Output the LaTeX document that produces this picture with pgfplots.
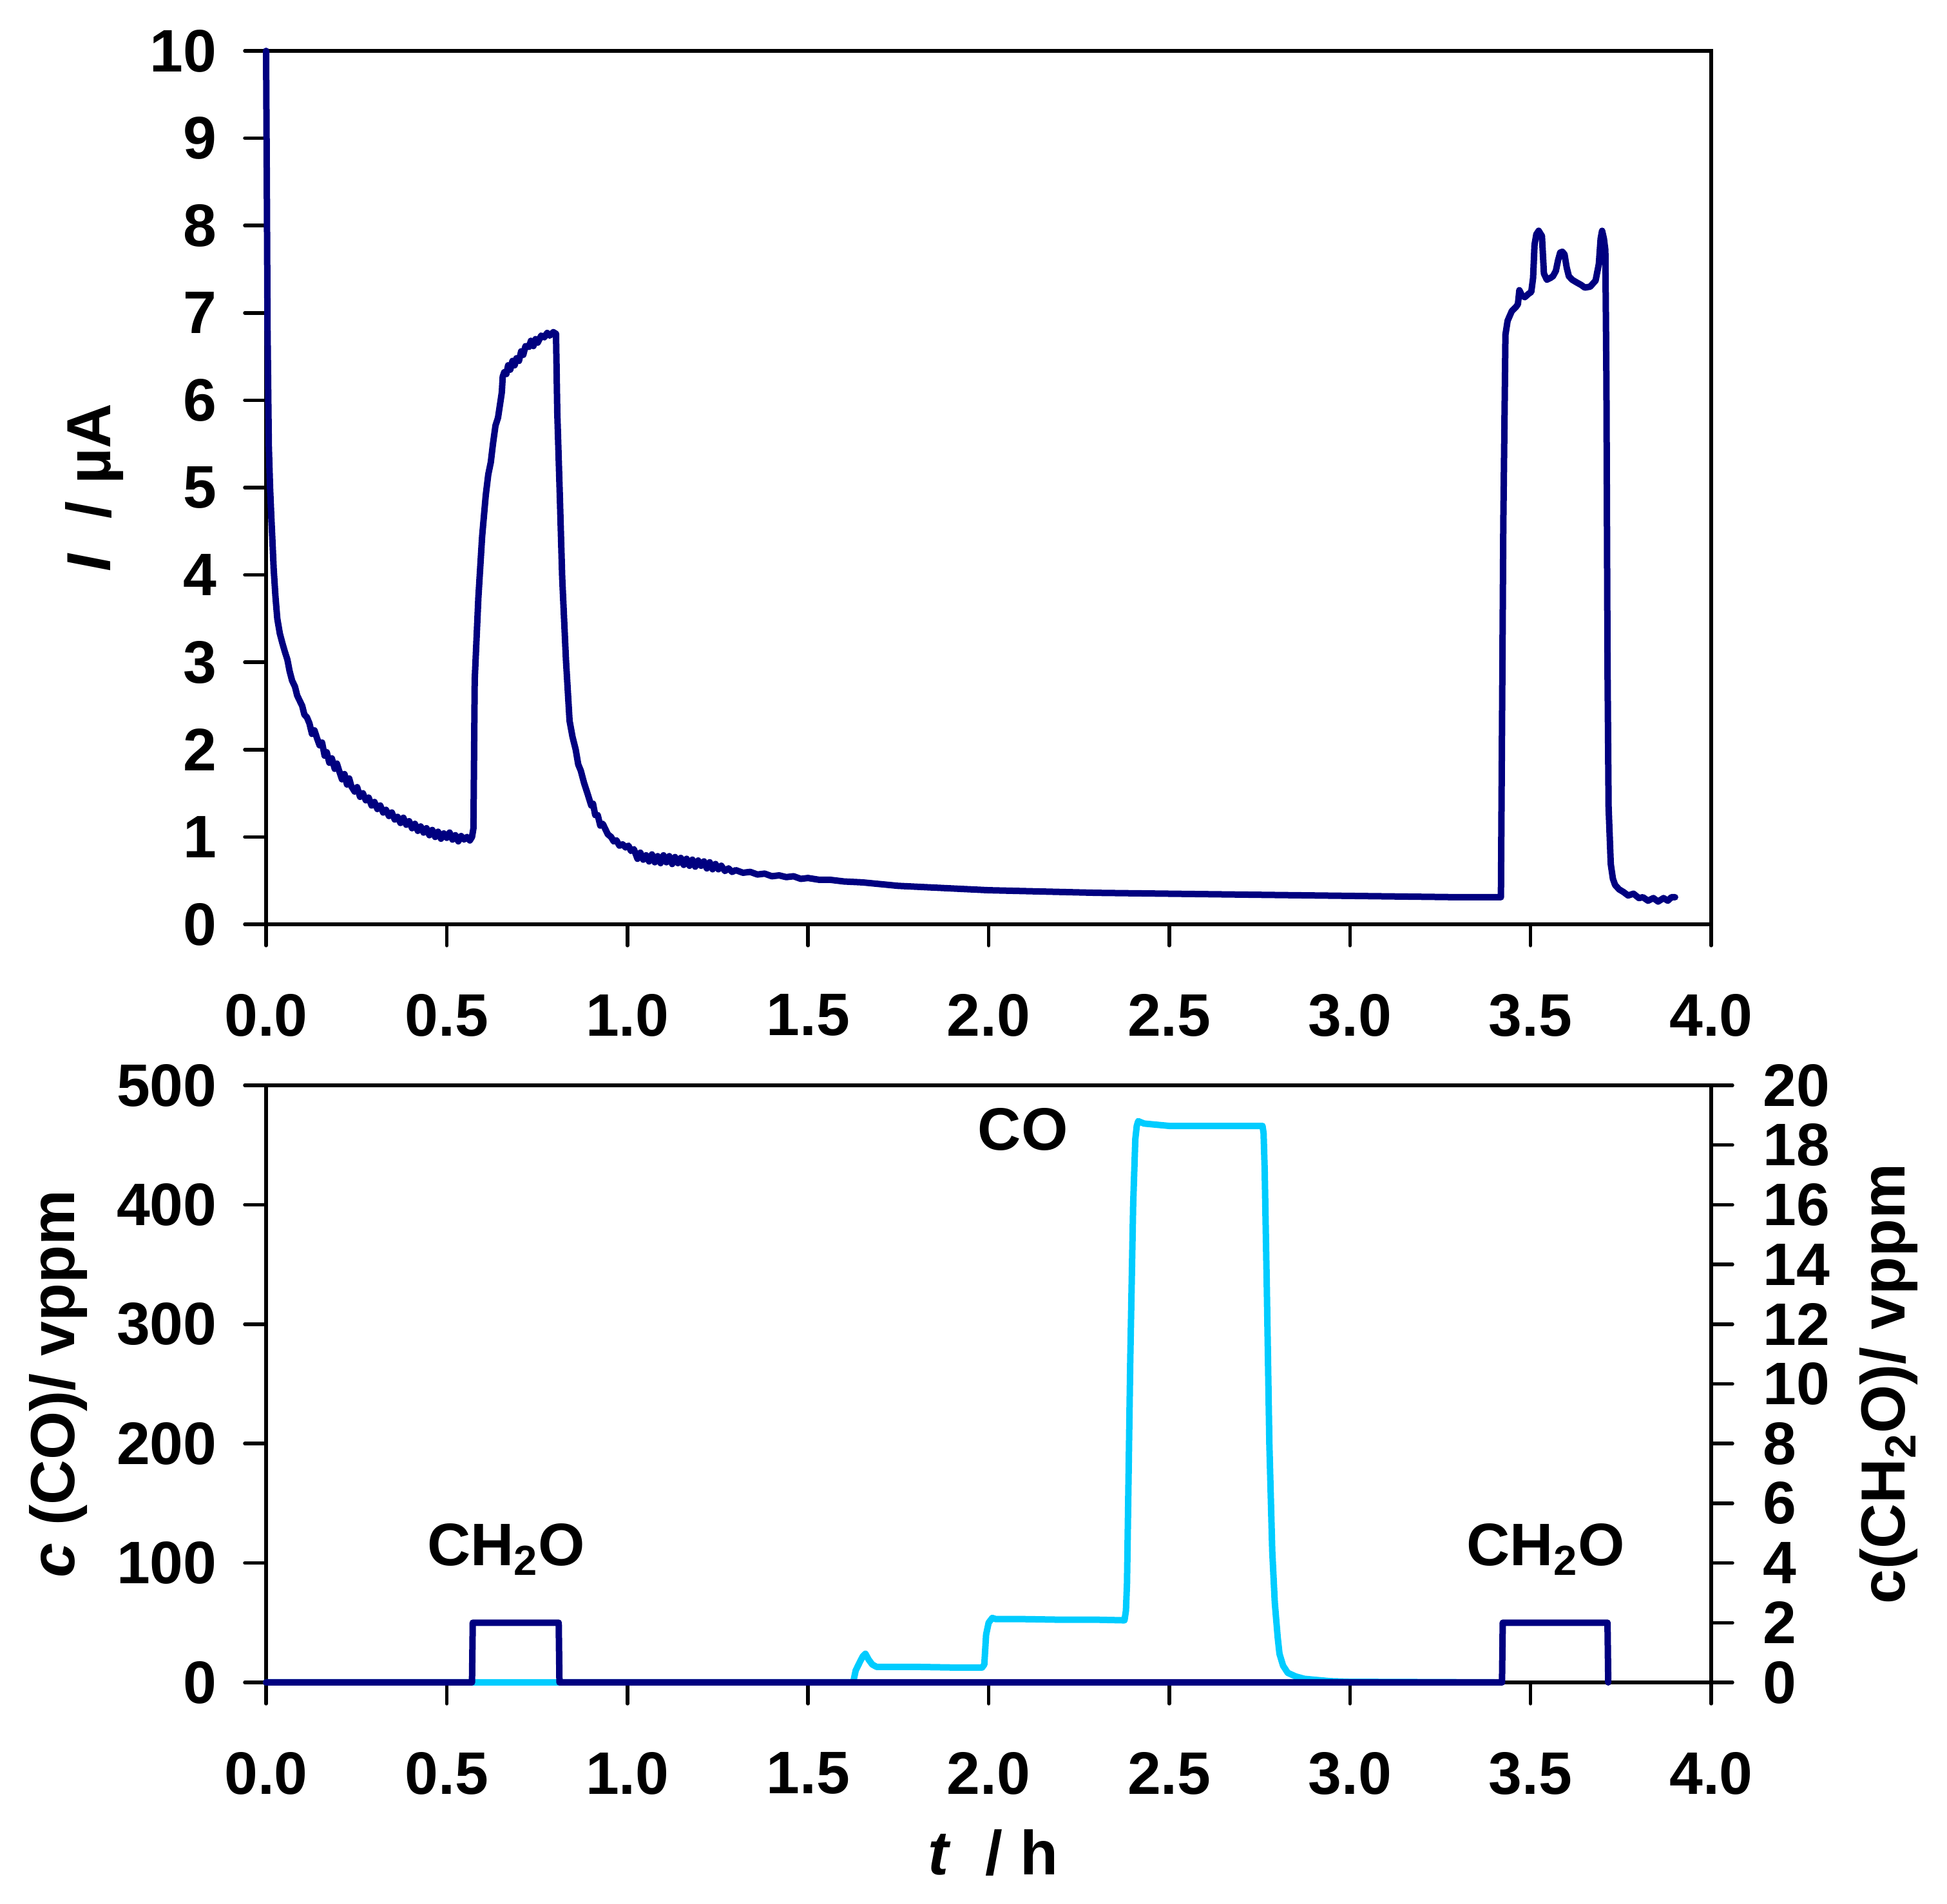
\documentclass[border=0pt]{standalone}
\usepackage{fontspec}
\setmainfont{Liberation Sans}
\usepackage{pgfplots}
\pgfplotsset{compat=1.18}
\definecolor{navyc}{RGB}{0,0,128}
\definecolor{cyanc}{RGB}{0,204,255}
\newcommand{\fnt}{\fontsize{27.5}{33}\selectfont\bfseries}
\newcommand{\tfnt}{\fontsize{26.5}{32}\selectfont\bfseries}
\pgfplotsset{
 common/.style={
  scale only axis, width=224.3mm,
  xmin=0, xmax=4, xtick={0,0.5,1,1.5,2,2.5,3,3.5,4},
  tick align=outside, major tick length=3.3mm,
  tick style={line width=0.55mm, black, line cap=round},
  axis line style={line width=0.55mm, line cap=round},
  tick label style={font=\tfnt},
  label style={font=\fnt},
  xticklabel style={yshift=-6.3mm, /pgf/number format/.cd, fixed, fixed zerofill, precision=1, assume math mode=true},
  yticklabel style={/pgf/number format/assume math mode=true},
  clip=false,
  minor tick num=0,
 }
}
\begin{document}
\begin{tikzpicture}
\useasboundingbox (0,0) rectangle (302.2mm,295.6mm);
% ---------- top panel ----------
\begin{axis}[common,
  at={(41.3mm,152.1mm)}, anchor=south west, height=135.6mm,
  ymin=0, ymax=10, ytick={0,1,...,10},
  xtick pos=bottom, ytick pos=left,
  yticklabel style={xshift=-3.1mm},
  ylabel={\textit{I}\ \ / µA},
  ylabel style={at={(axis description cs:-0.119,0.5)}, anchor=center},
]
\addplot[navyc, line width=1.0mm, line join=round, line cap=round] coordinates {
(0.000,10.0)(0.002,8.5)(0.004,6.8)(0.0075,5.48)(0.011,5.0)(0.0143,4.68)(0.018,4.35)(0.021,4.07)
(0.026,3.75)(0.031,3.50)(0.038,3.33)(0.045,3.22)(0.052,3.12)(0.059,3.03)(0.065,2.90)(0.072,2.79)
(0.080,2.72)(0.086,2.62)(0.093,2.56)(0.100,2.50)(0.106,2.40)(0.113,2.37)(0.120,2.30)(0.127,2.18)
(0.134,2.22)(0.141,2.13)(0.148,2.05)(0.155,2.08)(0.162,1.93)(0.168,1.97)(0.175,1.85)(0.182,1.90)
(0.190,1.78)(0.196,1.84)(0.202,1.76)(0.210,1.66)(0.217,1.72)(0.224,1.60)(0.230,1.67)(0.236,1.58)
(0.245,1.52)(0.252,1.57)(0.260,1.46)(0.268,1.50)(0.276,1.42)(0.284,1.45)(0.292,1.36)(0.300,1.40)
(0.308,1.32)(0.316,1.36)(0.324,1.28)(0.332,1.31)(0.340,1.24)(0.348,1.28)(0.356,1.20)(0.364,1.23)
(0.372,1.16)(0.380,1.22)(0.388,1.14)(0.396,1.18)(0.404,1.10)(0.412,1.15)(0.420,1.07)(0.428,1.12)
(0.436,1.05)(0.444,1.10)(0.452,1.02)(0.460,1.08)(0.468,1.00)(0.476,1.06)(0.484,0.98)(0.492,1.04)
(0.500,0.99)(0.508,1.05)(0.516,0.97)(0.524,1.02)(0.532,0.95)(0.540,1.01)(0.548,0.97)(0.556,1.00)
(0.564,0.96)(0.570,1.00)(0.574,1.10)(0.576,2.09)(0.5775,2.80)(0.5876,3.74)(0.598,4.44)(0.608,4.91)
(0.615,5.15)(0.622,5.29)(0.628,5.50)(0.635,5.71)(0.642,5.80)(0.6525,6.09)(0.655,6.27)(0.659,6.32)
(0.665,6.30)(0.670,6.40)(0.676,6.35)(0.682,6.45)(0.688,6.40)(0.693,6.48)(0.700,6.45)(0.706,6.56)
(0.712,6.52)(0.718,6.62)(0.7276,6.61)(0.733,6.68)(0.740,6.62)(0.746,6.70)(0.752,6.66)(0.7615,6.74)
(0.770,6.72)(0.778,6.77)(0.785,6.74)(0.795,6.78)(0.8025,6.76)(0.806,5.86)(0.813,4.91)(0.8196,3.97)
(0.830,3.03)(0.840,2.33)(0.848,2.15)(0.857,2.00)(0.864,1.83)(0.871,1.76)(0.880,1.62)(0.891,1.48)
(0.900,1.36)(0.905,1.38)(0.911,1.25)(0.918,1.25)(0.925,1.13)(0.932,1.15)(0.946,1.03)(0.955,1.00)
(0.962,0.95)(0.970,0.96)(0.978,0.90)(0.987,0.915)(0.995,0.88)(1.003,0.90)(1.010,0.84)(1.018,0.86)
(1.028,0.75)(1.036,0.82)(1.044,0.74)(1.052,0.79)(1.060,0.72)(1.068,0.80)(1.076,0.71)(1.084,0.78)
(1.092,0.70)(1.100,0.79)(1.108,0.71)(1.116,0.78)(1.124,0.69)(1.132,0.77)(1.140,0.70)(1.148,0.76)
(1.156,0.68)(1.164,0.75)(1.172,0.67)(1.180,0.74)(1.188,0.66)(1.196,0.73)(1.204,0.67)(1.212,0.72)
(1.220,0.64)(1.228,0.71)(1.236,0.63)(1.244,0.69)(1.252,0.63)(1.260,0.67)(1.270,0.61)(1.280,0.64)
(1.290,0.60)(1.300,0.62)(1.320,0.59)(1.340,0.60)(1.360,0.57)(1.380,0.58)(1.400,0.55)(1.420,0.56)
(1.440,0.54)(1.460,0.55)(1.480,0.52)(1.500,0.53)(1.530,0.51)(1.560,0.51)(1.600,0.49)(1.650,0.48)
(1.700,0.46)(1.750,0.44)(1.800,0.43)(1.850,0.42)(1.900,0.41)(1.950,0.40)(2.000,0.39)(2.100,0.38)
(2.200,0.37)(2.300,0.36)(2.400,0.355)(2.500,0.35)(2.600,0.345)(2.700,0.34)(2.800,0.335)(2.900,0.33)
(3.000,0.325)(3.100,0.32)(3.200,0.315)(3.300,0.31)(3.418,0.31)(3.4246,4.59)(3.4305,6.75)(3.4365,6.91)
(3.448,7.02)(3.460,7.07)(3.465,7.10)(3.469,7.26)(3.476,7.20)(3.484,7.18)(3.495,7.22)(3.502,7.24)
(3.507,7.40)(3.511,7.78)(3.516,7.90)(3.5225,7.94)(3.5315,7.88)(3.537,7.45)(3.545,7.38)(3.555,7.40)
(3.562,7.42)(3.570,7.48)(3.576,7.60)(3.582,7.69)(3.588,7.70)(3.594,7.67)(3.600,7.52)(3.606,7.42)
(3.615,7.38)(3.627,7.35)(3.640,7.32)(3.650,7.29)(3.665,7.30)(3.680,7.37)(3.689,7.56)(3.694,7.85)
(3.698,7.94)(3.703,7.85)(3.707,7.72)(3.710,6.21)(3.713,2.97)(3.716,1.34)(3.722,0.69)(3.728,0.52)
(3.734,0.45)(3.745,0.40)(3.757,0.37)(3.770,0.33)(3.785,0.35)(3.800,0.30)(3.811,0.31)(3.825,0.27)
(3.840,0.30)(3.853,0.26)(3.868,0.30)(3.880,0.27)(3.890,0.31)(3.900,0.31)
};
\end{axis}
% ---------- bottom panel, left axis (CO) ----------
\begin{axis}[common,
  at={(41.3mm,34.4mm)}, anchor=south west, height=92.7mm,
  ymin=0, ymax=500, ytick={0,100,...,500},
  xtick pos=bottom, ytick pos=left,
  yticklabel style={xshift=-3.1mm},
  ylabel={\textit{c} (CO)/ vppm},
  ylabel style={at={(axis description cs:-0.1436,0.5)}, anchor=center},
  xlabel={\textit{t}\ \ / h},
  xlabel style={at={(axis description cs:0.503,-0.2848)}, anchor=center},
]
\addplot[cyanc, line width=1.0mm, line join=round, line cap=round] coordinates {
(0,0)(1.625,0)(1.632,10)(1.645,18)(1.652,22)(1.659,24)(1.668,19)(1.678,15)(1.690,13)(1.800,13)
(1.900,12.5)(1.982,12.5)(1.988,15)(1.993,40)(2.000,50)(2.010,54)(2.020,53)(2.100,53)(2.200,52.5)
(2.300,52.5)(2.376,52)(2.380,60)(2.383,83)(2.392,270)(2.400,400)(2.406,455)(2.410,466)(2.414,470)
(2.430,468)(2.500,466)(2.600,466)(2.700,466)(2.758,466)(2.761,460)(2.764,430)(2.770,330)(2.777,200)
(2.785,110)(2.792,67)(2.800,38)(2.805,24)(2.815,14)(2.828,8)(2.850,5)(2.874,3)(2.946,1)(3.000,0.5)(3.400,0)
};
\node[font=\tfnt, anchor=base] at (axis cs:2.095,446) {CO};
\node[font=\tfnt, anchor=base] at (axis cs:0.665,98) {CH\textsubscript{2}O};
\node[font=\tfnt, anchor=base] at (axis cs:3.542,98) {CH\textsubscript{2}O};
\end{axis}
% ---------- bottom panel, right axis (CH2O) ----------
\begin{axis}[common,
  at={(41.3mm,34.4mm)}, anchor=south west, height=92.7mm,
  axis x line=none, axis y line*=right,
  ymin=0, ymax=20, ytick={0,2,...,20},
  yticklabel style={xshift=3.5mm},
  ylabel={c(CH\textsubscript{2}O)/ vppm},
  ylabel style={at={(axis description cs:1.1226,0.5)}, anchor=center},
]
\addplot[navyc, line width=1.0mm, line join=round, line cap=round] coordinates {
(0,0)(0.570,0)(0.572,2)(0.810,2)(0.812,0)(3.421,0)(3.423,2)(3.713,2)(3.715,0)
};
\end{axis}
\end{tikzpicture}
\end{document}
